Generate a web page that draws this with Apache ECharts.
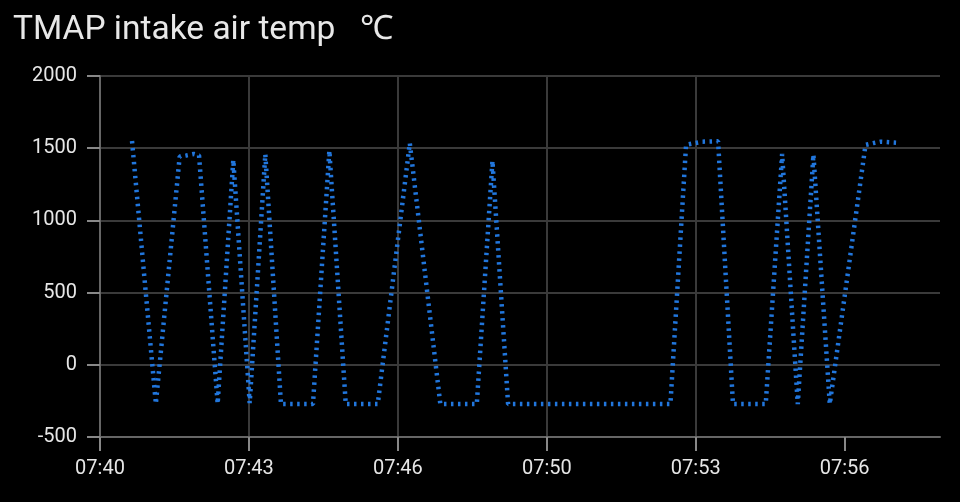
<!DOCTYPE html>
<html>
<head>
<meta charset="utf-8">
<script src="https://cdn.jsdelivr.net/npm/echarts@6/dist/echarts.min.js"></script>
<style>
  html, body { margin: 0; padding: 0; background: #000; }
  #chart { width: 960px; height: 502px; }
</style>
</head>
<body>
<div id="chart"></div>
<script>
// 数据: 时间点与温度值
var times = [
    '07:40:43', '07:41:15', '07:41:47', '07:41:56', '07:42:06', '07:42:13',
    '07:42:38', '07:42:59', '07:43:21', '07:43:42', '07:44:03', '07:44:46',
    '07:45:08', '07:45:30', '07:46:13', '07:46:56', '07:47:37', '07:48:26',
    '07:48:47', '07:49:08', '07:52:46', '07:53:07', '07:53:28', '07:53:50',
    '07:54:10', '07:54:54', '07:55:16', '07:55:37', '07:55:58', '07:56:20',
    '07:57:08', '07:57:18', '07:57:28', '07:57:49'
];
var temps = [
    1550, -270, 1442, 1450, 1460, 1450,
    -270, 1419, -265, 1458, -272, -272,
    1483, -272, -272, 1535, -272, -272,
    1412, -272, -272, 1523, 1545, 1548,
    -272, -272, 1460, -272, 1456, -272,
    1523, 1535, 1545, 1538
];
// x轴刻度
var tickTimes = ['07:40:00', '07:43:20', '07:46:40', '07:50:00', '07:53:20', '07:56:40'];
var yTicks = [-500, 0, 500, 1000, 1500, 2000];

var axisStart = '07:40:00',
    axisEnd = '07:58:48';

function toSec(s) {
    var p = s.split(':');
    return (+p[0]) * 3600 + (+p[1]) * 60 + (+(p[2] || 0));
}

function fmt(v) {
    var h = Math.floor(v / 3600),
        m = Math.floor((v % 3600) / 60);
    return (h < 10 ? '0' : '') + h + ':' + (m < 10 ? '0' : '') + m;
}

var seriesData = times.map(function(t, i) {
    return [toSec(t), temps[i]];
});
var tickVals = tickTimes.map(toSec);

var chart = echarts.init(document.getElementById('chart'));

chart.setOption({
    backgroundColor: '#000',
    animation: false,
    textStyle: { fontFamily: 'Roboto' },
    title: {
        text: 'TMAP intake air temp   \u2103',
        left: 13,
        top: 14,
        padding: 0,
        textStyle: {
            color: '#e8e8e8',
            fontSize: 33.5,
            fontWeight: 'normal',
            fontFamily: 'Roboto'
        }
    },
    grid: {
        left: 100,
        right: 20,
        top: 76,
        bottom: 65
    },
    xAxis: {
        type: 'value',
        min: toSec(axisStart),
        max: toSec(axisEnd),
        interval: 200,
        axisLine: { onZero: false, lineStyle: { color: '#666', width: 2 } },
        axisTick: {
            show: true,
            length: 14,
            customValues: tickVals,
            lineStyle: { color: '#888', width: 2 }
        },
        axisLabel: {
            customValues: tickVals,
            formatter: fmt,
            color: '#e6e6e6',
            fontSize: 20,
            margin: 22
        },
        splitLine: {
            show: true,
            showMaxLine: false,
            lineStyle: { color: '#3a3a3a', width: 2 }
        }
    },
    yAxis: {
        type: 'value',
        min: yTicks[0],
        max: yTicks[yTicks.length - 1],
        interval: 500,
        axisLine: { show: true, lineStyle: { color: '#666', width: 2 } },
        axisTick: {
            show: true,
            length: 13,
            lineStyle: { color: '#888', width: 2 }
        },
        axisLabel: {
            color: '#e6e6e6',
            fontSize: 20,
            margin: 23,
            formatter: function(v) { return String(v); }
        },
        splitLine: {
            show: true,
            lineStyle: { color: '#3a3a3a', width: 2 }
        }
    },
    series: [{
        type: 'line',
        data: seriesData,
        showSymbol: false,
        lineStyle: {
            color: '#2176dc',
            width: 4.5,
            type: [2.5, 4.5],
            cap: 'butt'
        }
    }]
});
</script>
</body>
</html>
